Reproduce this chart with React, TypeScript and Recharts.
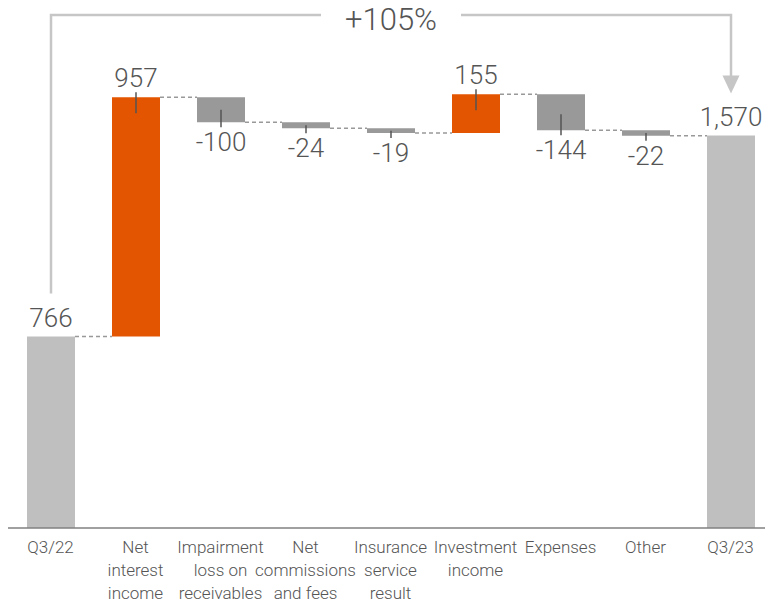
import React from "react";
import { BarChart, Bar, XAxis, YAxis } from "recharts";

// ---- data ----
const categories = [
  "Q3/22",
  "Net interest income",
  "Impairment loss on receivables",
  "Net commissions and fees",
  "Insurance service result",
  "Investment income",
  "Expenses",
  "Other",
  "Q3/23",
];
const tickLines = [
  ["Q3/22"],
  ["Net", "interest", "income"],
  ["Impairment", "loss on", "receivables"],
  ["Net", "commissions", "and fees"],
  ["Insurance", "service", "result"],
  ["Investment", "income"],
  ["Expenses"],
  ["Other"],
  ["Q3/23"],
];
const changes = [766, 957, -100, -24, -19, 155, -144, -22, 1570];
const kinds = ["total", "up", "down", "down", "down", "up", "down", "down", "total"];
const valueLabels = ["766", "957", "-100", "-24", "-19", "155", "-144", "-22", "1,570"];
const totalChangeLabel = "+105%";

// ---- style / layout ----
const CHART_W = 765;
const CHART_H = 603;
const MARGIN_TOP = 28;
const AXIS_H = 70;
const BAND = CHART_W / categories.length;
const ORANGE = "#E35500";
const GRAY = "#999999";
const TOTAL = "#BFBFBF";
const BRACKET = "#C6C6C6";
const TEXT = "#555555";
const FONT = "Roboto, 'Liberation Sans', sans-serif";

let running = 0;
const data = categories.map((name, i) => {
  const kind = kinds[i];
  const c = changes[i];
  let base = 0;
  let value = 0;
  if (kind === "total") {
    base = 0;
    value = c;
    running = c;
  } else if (c >= 0) {
    base = running;
    value = c;
    running += c;
  } else {
    base = running + c;
    value = -c;
    running += c;
  }
  return { name, base, value, kind, label: valueLabels[i], idx: i };
});

const BRACKET_Y = 15;

const DeltaShape = (props: any) => {
  const { x, y, width, height, payload } = props;
  const kind = payload.kind;
  const i = payload.idx;
  const fill = kind === "total" ? TOTAL : kind === "up" ? ORANGE : GRAY;
  const cx = x + width / 2;
  const isDown = kind === "down";
  const endY = isDown ? y + height : y;
  const inner = Math.min(height / 2, 16);
  const last = i === categories.length - 1;
  const elems: any[] = [];
  elems.push(<rect key="r" x={x} y={y} width={width} height={height} fill={fill} />);
  if (!last) {
    elems.push(
      <line
        key="c"
        x1={x + width}
        x2={x + BAND}
        y1={endY}
        y2={endY}
        stroke="#999999"
        strokeWidth={1.3}
        strokeDasharray="4 3"
      />
    );
  }
  if (kind !== "total") {
    if (isDown) {
      elems.push(
        <line key="t" x1={cx} x2={cx} y1={y + height - inner} y2={y + height + 5} stroke="#555" strokeWidth={1.5} />
      );
    } else {
      elems.push(<line key="t" x1={cx} x2={cx} y1={y - 5} y2={y + inner} stroke="#555" strokeWidth={1.5} />);
    }
  }
  elems.push(
    <text
      key="l"
      x={cx}
      y={isDown ? y + height + 29 : y - 10}
      textAnchor="middle"
      fontFamily={FONT}
      fontWeight={300}
      fontSize={26}
      fill={TEXT}
    >
      {payload.label}
    </text>
  );
  if (kind === "total" && i === 0) {
    const mid = cx + ((categories.length - 1) * BAND) / 2;
    elems.push(
      <polyline
        key="b1"
        points={`${cx},${y - 43} ${cx},${BRACKET_Y} ${mid - 70},${BRACKET_Y}`}
        fill="none"
        stroke={BRACKET}
        strokeWidth={2.5}
      />
    );
    elems.push(
      <text
        key="pct"
        x={mid}
        y={BRACKET_Y + 15}
        textAnchor="middle"
        fontFamily={FONT}
        fontWeight={300}
        fontSize={31}
        fill={TEXT}
      >
        {totalChangeLabel}
      </text>
    );
  }
  if (kind === "total" && last) {
    const mid = cx - ((categories.length - 1) * BAND) / 2;
    const tip = y - 42;
    elems.push(
      <polyline
        key="b2"
        points={`${mid + 70},${BRACKET_Y} ${cx},${BRACKET_Y} ${cx},${tip - 16}`}
        fill="none"
        stroke={BRACKET}
        strokeWidth={2.5}
      />
    );
    elems.push(
      <polygon key="ah" points={`${cx - 8.5},${tip - 18} ${cx + 8.5},${tip - 18} ${cx},${tip}`} fill={BRACKET} />
    );
  }
  return <g>{elems}</g>;
};

const CategoryTick = (props: any) => {
  const { x, y, index } = props;
  const lines = tickLines[index] || [];
  return (
    <g>
      {lines.map((ln: string, k: number) => (
        <text
          key={k}
          x={x}
          y={y + 17 + k * 23}
          textAnchor="middle"
          fontFamily={FONT}
          fontWeight={300}
          fontSize={17}
          fill={TEXT}
        >
          {ln}
        </text>
      ))}
    </g>
  );
};

export default function App() {
  return (
    <div style={{ position: "absolute", left: 8, top: 0, width: 757, height: 603, overflow: "hidden" }}>
      <BarChart
        width={CHART_W}
        height={CHART_H}
        data={data}
        margin={{ top: MARGIN_TOP, right: 0, left: 0, bottom: 5 }}
        barSize={48}
      >
        <XAxis
          dataKey="name"
          interval={0}
          height={AXIS_H}
          tickLine={false}
          axisLine={{ stroke: "#808080", strokeWidth: 1.5 }}
          tick={<CategoryTick />}
        />
        <YAxis hide domain={[0, 2000]} />
        <Bar dataKey="base" stackId="w" fill="transparent" isAnimationActive={false} />
        <Bar dataKey="value" stackId="w" shape={<DeltaShape />} isAnimationActive={false} />
      </BarChart>
    </div>
  );
}
